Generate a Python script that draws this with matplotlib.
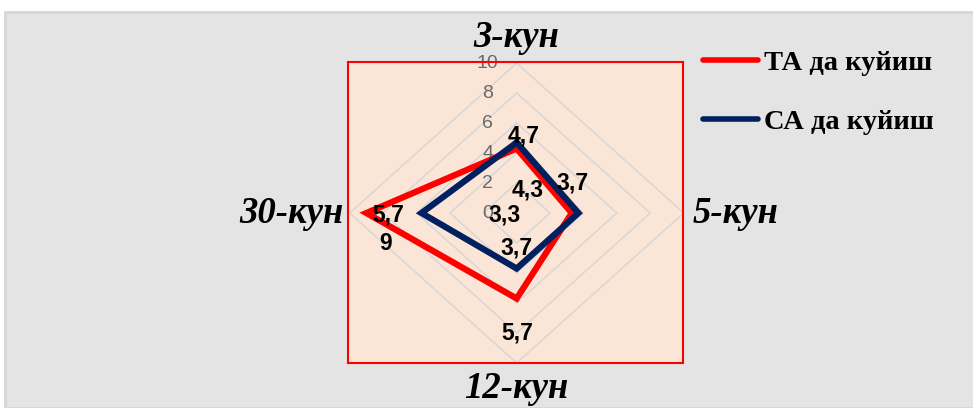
import numpy as np
import matplotlib
matplotlib.use("Agg")
import matplotlib.pyplot as plt
from matplotlib.patches import Rectangle

# ---- data ----
categories = ["3-кун", "5-кун", "12-кун", "30-кун"]
series_names = ["ТА да куйиш", "СА да куйиш"]
ta_values = [4.3, 3.3, 5.7, 9]
sa_values = [4.7, 3.7, 3.7, 5.7]
ticks = [0, 2, 4, 6, 8, 10]

colors = ["#FF0000", "#002060"]
# label offsets in pixels (Excel put them in odd places)
ta_offsets = [(11, -41), (-67, -2), (1, -34), (19, -30)]
sa_offsets = [(7, 7), (-6, 30), (0, 21), (-33, -2)]

n = len(categories)
theta = np.pi / 2 - 2 * np.pi * np.arange(n) / n
ux, uy = np.cos(theta), np.sin(theta)


def closed(a):
    return np.append(a, a[0])


fig = plt.figure(figsize=(9.73, 4.08), dpi=100)
fig.patch.set_facecolor("white")
fig.add_artist(Rectangle((5 / 973, 0), 1, 1 - 12 / 408, transform=fig.transFigure,
                         facecolor="#E4E4E4", edgecolor="#D6D6D6", linewidth=2, zorder=0))

ax = fig.add_axes([348 / 973, 45 / 408, 335 / 973, 301 / 408])
ax.set_facecolor("#FBE5D6")
for s in ax.spines.values():
    s.set_color("#FF0000")
    s.set_linewidth(1.5)
ax.set_xticks([])
ax.set_yticks([])
ax.set_xlim(-10.1, 9.96)
ax.set_ylim(-10, 10.07)

# grid diamonds
for t in ticks[1:]:
    ax.plot(closed(ux * t), closed(uy * t), color="#D3D6DA", lw=1, zorder=1)

# tick labels on the first axis
for t in ticks:
    ax.annotate(str(t), (0, t), xytext=(-29, 0), textcoords="offset pixels",
                ha="center", va="center", fontsize=14, color="#6A6A6A",
                family="Liberation Sans", zorder=2, annotation_clip=False)

handles = []
for vals, name, col, offs in [(ta_values, series_names[0], colors[0], ta_offsets),
                              (sa_values, series_names[1], colors[1], sa_offsets)]:
    v = np.array(vals, dtype=float)
    ln, = ax.plot(closed(ux * v), closed(uy * v), color=col, lw=4.5, label=name,
                  solid_joinstyle="miter", zorder=3)
    handles.append(ln)
    for i in range(n):
        ax.annotate(f"{vals[i]:g}".replace(".", ","), (ux[i] * v[i], uy[i] * v[i]),
                    xytext=offs[i], textcoords="offset pixels", ha="center", va="center",
                    fontsize=16.5, fontweight="bold", family="Liberation Sans",
                    color="black", zorder=5, annotation_clip=False)

# category labels
cat_font = dict(family="Liberation Serif", fontsize=26.5, fontweight="bold", style="italic",
                color="black")
ax.annotate(categories[0], (0, 10), xytext=(0, 26), textcoords="offset pixels",
            ha="center", va="center", annotation_clip=False, **cat_font)
ax.annotate(categories[1], (10, 0), xytext=(9, 0), textcoords="offset pixels",
            ha="left", va="center", annotation_clip=False, **cat_font)
ax.annotate(categories[2], (0, -10), xytext=(0, -25), textcoords="offset pixels",
            ha="center", va="center", annotation_clip=False, **cat_font)
ax.annotate(categories[3], (-10, 0), xytext=(-6, 0), textcoords="offset pixels",
            ha="right", va="center", annotation_clip=False, **cat_font)

leg = fig.legend(handles=handles, loc="upper left", bbox_to_anchor=(677 / 973, 1 - 24 / 408),
                 frameon=False, handlelength=1.95, handletextpad=0.2, labelspacing=1.17,
                 prop=dict(family="Liberation Serif", weight="bold", size=20.5))
for h in leg.get_lines():
    h.set_linewidth(4)
    h.set_solid_capstyle("round")

fig.savefig("out.png", dpi=100)
